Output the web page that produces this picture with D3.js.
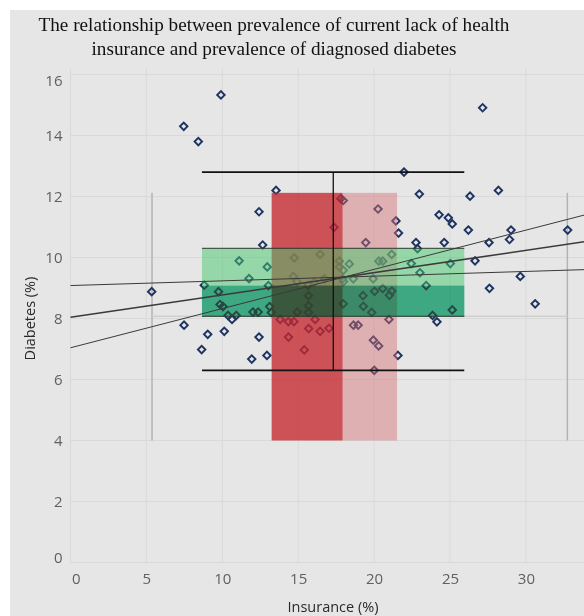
<!DOCTYPE html>
<html><head><meta charset="utf-8">
<script src="https://cdn.jsdelivr.net/npm/d3@7"></script>
<style>html,body{margin:0;padding:0;background:#fff;}svg{display:block;}</style>
</head><body>
<script>
// ---------- data ----------
const titleLines = ["The relationship between prevalence of current lack of health",
                    "insurance and prevalence of diagnosed diabetes"];
const xLabel = "Insurance (%)";
const yLabel = "Diabetes (%)";
const xTicks = [0, 5, 10, 15, 20, 25, 30];
const yTicks = [0, 2, 4, 6, 8, 10, 12, 14, 16];

const insurance = [7.46,8.42,9.91,13.54,12.42,17.81,17.97,17.36,20.26,21.44,21.61,19.45,12.66,22.76,22.98,27.15,21.97,26.32,28.19,24.28,
  24.89,25.15,26.21,29.02,32.75,22.86,24.62,27.57,28.92,26.65,25.02,22.45,23.02,29.63,23.43,27.60,30.61,25.15,23.85,24.14,
  21.16,20.57,20.31,20.57,21.17,21.01,20.98,21.57,11.11,12.96,14.74,16.44,17.71,17.71,17.97,18.37,11.76,14.68,14.92,15.65,
  16.05,16.72,17.93,18.63,17.99,19.94,8.81,9.75,13.04,15.67,17.97,19.27,20.03,9.85,10.05,13.12,14.94,15.68,15.68,12.02,
  12.36,10.38,10.92,10.64,19.29,19.84,13.81,14.35,14.72,16.11,15.69,16.44,17.03,14.36,15.40,18.64,18.95,19.95,20.30,20.01,
  9.04,10.13,8.64,12.42,11.94,12.94,7.48,5.35,13.23];
const diabetes = [14.30,13.80,15.33,12.20,11.50,11.93,11.87,10.99,11.59,11.20,10.80,10.49,10.41,10.49,12.08,14.91,12.80,12.01,12.20,11.40,
  11.30,11.10,10.90,10.90,10.90,10.29,10.49,10.49,10.59,9.89,9.80,9.80,9.50,9.38,9.08,8.99,8.48,8.28,8.10,7.89,
  10.10,9.88,9.88,8.98,8.90,8.76,7.97,6.79,9.89,9.69,9.99,10.10,9.88,9.69,9.58,9.79,9.31,9.38,9.21,9.09,
  9.20,9.30,9.30,9.30,9.21,9.30,9.09,8.88,9.08,8.75,8.48,8.75,8.89,8.46,8.39,8.39,8.21,8.42,8.20,8.21,
  8.21,8.10,8.10,7.97,8.40,8.20,7.97,7.90,7.90,7.97,7.67,7.58,7.68,7.39,6.97,7.78,7.78,7.29,7.10,6.30,
  7.48,7.58,6.98,7.39,6.67,6.79,7.78,8.88,8.20];

// insurance distribution band (x ranges) spanning diabetes 4 .. 12.12
const insBandEdges = [13.25, 17.93, 21.51];
const insBandY = [4, 12.12];
// diabetes distribution band (y ranges) spanning insurance 8.66 .. 25.94
const diaBandEdges = [8.07, 9.08, 10.30];
const diaBandX = [8.66, 25.94];
// range lines
const rangeX = [5.37, 32.73];
const rangeY = [4, 12.12];
const medianDiabetes = 8.07;
const errX = [8.66, 25.94];
const errY = [6.30, 12.80];
const errMidX = 17.31;
// trend lines: diabetes at insurance = 0 and at insurance = 35
const trendStart = [7.04, 8.04, 9.08];
const trendEnd   = [11.54, 10.60, 9.62];
const trendWidth = [1, 1.6, 1];

// ---------- layout ----------
const W = 584, H = 616;
const svg = d3.select("body").append("svg").attr("width", W).attr("height", H);
svg.append("rect").attr("x", 10).attr("y", 10).attr("width", W - 10).attr("height", H - 10).attr("fill", "#e6e6e6");

const x = d3.scaleLinear().domain([0, 35]).range([70.5, 70.5 + 35 * 15.18]);
const y = d3.scaleLinear().domain([0, 16]).range([562.5, 562.5 - 16 * 30.5]);
const plotTop = y(16.2);

// title
const tt = svg.append("text").attr("text-anchor", "middle")
  .attr("font-family", "'Liberation Serif', 'Times New Roman', serif").attr("font-size", 19.2).attr("fill", "#111");
titleLines.forEach((t, i) => tt.append("tspan").attr("x", 274).attr("y", 31 + i * 23.5).text(t));

// grid
const g = svg.append("g");
g.selectAll(".vg").data(xTicks.concat([35])).join("line")
  .attr("x1", d => x(d)).attr("x2", d => x(d)).attr("y1", plotTop).attr("y2", y(0))
  .attr("stroke", "#d9d9d9").attr("stroke-width", 1);
g.selectAll(".hg").data(yTicks).join("line")
  .attr("x1", x(0)).attr("x2", W).attr("y1", d => y(d)).attr("y2", d => y(d))
  .attr("stroke", "#d9d9d9").attr("stroke-width", 1);

// axes (labels only)
const yAxis = d3.axisLeft(y).tickValues(yTicks).tickSize(0).tickPadding(8);
const ya = svg.append("g").attr("transform", `translate(${x(0)},0)`).call(yAxis);
ya.select(".domain").remove();
ya.selectAll("text").attr("font-family", "'Open Sans', sans-serif").attr("font-size", 15).attr("fill", "#606060")
  .attr("dy", d => d === 16 ? "0.75em" : d === 0 ? "0.0em" : "0.32em");

const xAxis = d3.axisBottom(x).tickValues(xTicks).tickSize(0).tickPadding(11);
const xa = svg.append("g").attr("transform", `translate(0,${y(0)})`).call(xAxis);
xa.select(".domain").remove();
xa.selectAll("text").attr("font-family", "'Open Sans', sans-serif").attr("font-size", 15).attr("fill", "#606060")
  .attr("dx", d => d === 0 ? "0.35em" : 0);

svg.append("text").attr("x", 333).attr("y", 612).attr("text-anchor", "middle")
  .attr("font-family", "'Open Sans', sans-serif").attr("font-size", 14.5).attr("fill", "#2a2a2a").text(xLabel);
svg.append("text").attr("transform", `translate(35,${(y(0) + y(16)) / 2}) rotate(-90)`).attr("text-anchor", "middle")
  .attr("font-family", "'Open Sans', sans-serif").attr("font-size", 14.5).attr("fill", "#2a2a2a").text(yLabel);

// range lines (gray)
svg.selectAll(".rl").data(rangeX).join("line")
  .attr("x1", d => x(d)).attr("x2", d => x(d)).attr("y1", y(rangeY[0])).attr("y2", y(rangeY[1]))
  .attr("stroke", "#b4b4b4").attr("stroke-width", 1.5);
svg.append("line").attr("x1", x(rangeX[0])).attr("x2", x(rangeX[1]))
  .attr("y1", y(medianDiabetes)).attr("y2", y(medianDiabetes)).attr("stroke", "#cfcfcf").attr("stroke-width", 1.5);

// points
const pts = d3.range(insurance.length).map(i => ({ x: insurance[i], y: diabetes[i] }));
const sym = d3.symbol().type(d3.symbolSquare).size(28);
svg.append("g").selectAll("path").data(pts).join("path")
  .attr("d", sym).attr("transform", d => `translate(${x(d.x)},${y(d.y)}) rotate(45)`)
  .attr("fill", "none").attr("stroke", "#1d3461").attr("stroke-width", 1.9);

// insurance bands (red)
const redColors = [["rgb(196,40,48)", 0.78], ["rgb(214,110,115)", 0.45]];
svg.append("g").selectAll("rect").data(d3.pairs(insBandEdges)).join("rect")
  .attr("x", d => x(d[0])).attr("width", d => x(d[1]) - x(d[0]))
  .attr("y", y(insBandY[1])).attr("height", y(insBandY[0]) - y(insBandY[1]))
  .attr("fill", (d, i) => redColors[i][0]).attr("fill-opacity", (d, i) => redColors[i][1]);

// diabetes bands (green): each band drawn as a stack of layers
const greenLayers = [
  [{ fill: "rgb(49,230,204)", op: 1, blend: "multiply" }, { fill: "rgb(84,109,50)", op: 0.4, blend: "normal" }],
  [{ fill: "rgb(70,200,110)", op: 0.5, blend: "normal" }]
];
const bandLayers = [];
d3.pairs(diaBandEdges).forEach((b, i) => greenLayers[i].forEach(s => bandLayers.push({ b, s })));
svg.append("g").selectAll("rect").data(bandLayers).join("rect")
  .attr("x", x(diaBandX[0])).attr("width", x(diaBandX[1]) - x(diaBandX[0]))
  .attr("y", d => y(d.b[1])).attr("height", d => y(d.b[0]) - y(d.b[1]))
  .attr("fill", d => d.s.fill).attr("fill-opacity", d => d.s.op)
  .style("mix-blend-mode", d => d.s.blend);
svg.selectAll(".gb").data([diaBandEdges[0], diaBandEdges[2]]).join("line")
  .attr("x1", x(diaBandX[0])).attr("x2", x(diaBandX[1])).attr("y1", d => y(d)).attr("y2", d => y(d))
  .attr("stroke", "#2c3a30").attr("stroke-width", 1.2).attr("stroke-opacity", 0.8);

// trend lines
svg.append("g").selectAll("line").data(trendStart).join("line")
  .attr("x1", x(0)).attr("x2", x(35)).attr("y1", d => y(d)).attr("y2", (d, i) => y(trendEnd[i]))
  .attr("stroke", "#3a3a3a").attr("stroke-width", (d, i) => trendWidth[i]);

// error bar (black)
svg.selectAll(".eb").data(errY).join("line")
  .attr("x1", x(errX[0])).attr("x2", x(errX[1])).attr("y1", d => y(d)).attr("y2", d => y(d))
  .attr("stroke", "#111").attr("stroke-width", 1.6);
svg.append("line").attr("x1", x(errMidX)).attr("x2", x(errMidX)).attr("y1", y(errY[0])).attr("y2", y(errY[1]))
  .attr("stroke", "#111").attr("stroke-width", 1.3);
</script>
</body></html>
